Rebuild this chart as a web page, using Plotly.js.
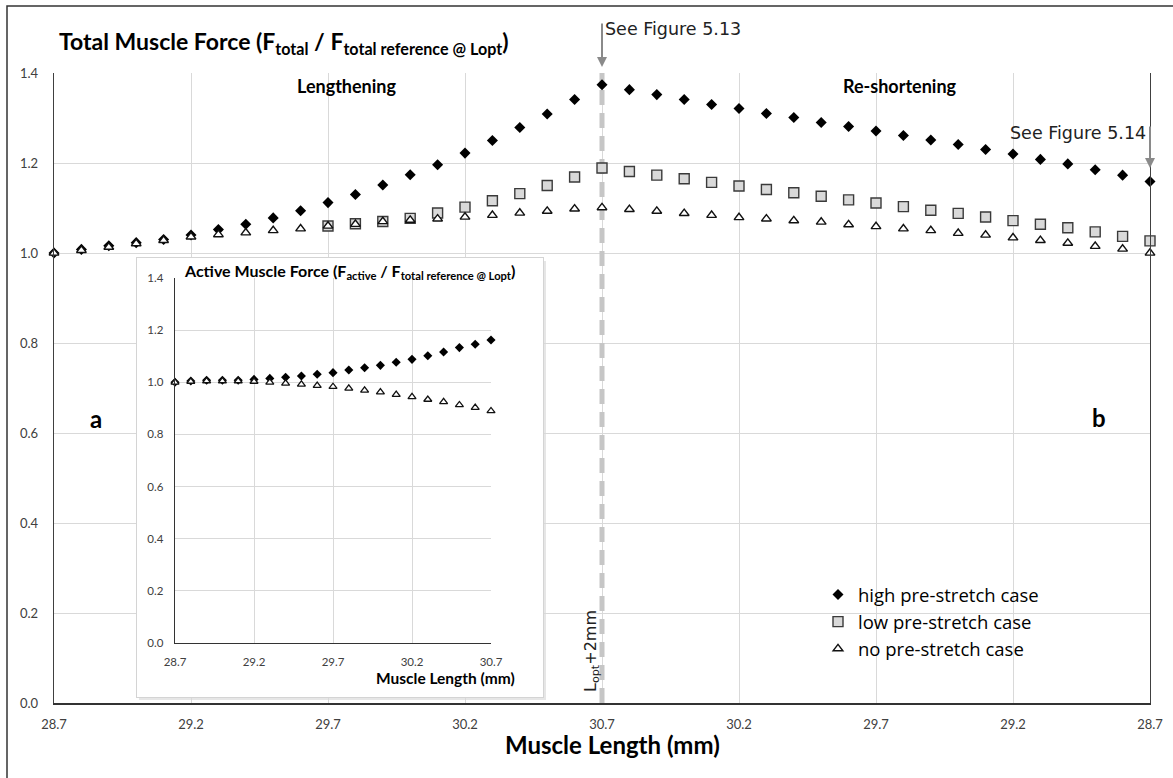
<!DOCTYPE html>
<html>
<head>
<meta charset="utf-8">
<script src="https://cdn.plot.ly/plotly-3.0.1.min.js"></script>
<style>
  html, body { margin: 0; padding: 0; background: #fff; }
  #chart { width: 1173px; height: 778px; }
</style>
</head>
<body>
<div id="chart"></div>
<script>
// Muscle length steps (mm): lengthening up to Lopt+2mm, then re-shortening back
const lengtheningMm = [28.7, 28.8, 28.9, 29.0, 29.1, 29.2, 29.3, 29.4, 29.5, 29.6, 29.7,
                       29.8, 29.9, 30.0, 30.1, 30.2, 30.3, 30.4, 30.5, 30.6, 30.7];
const reshorteningMm = [30.6, 30.5, 30.4, 30.3, 30.2, 30.1, 30.0, 29.9, 29.8, 29.7,
                        29.6, 29.5, 29.4, 29.3, 29.2, 29.1, 29.0, 28.9, 28.8, 28.7];

// Total muscle force, normalised (F_total / F_total reference @ Lopt)
const highLengthening = [1.000, 1.008, 1.016, 1.023, 1.030, 1.040, 1.052, 1.064, 1.078, 1.094, 1.112,
                         1.130, 1.151, 1.174, 1.196, 1.222, 1.250, 1.279, 1.309, 1.341, 1.374];
const highReshortening = [1.363, 1.352, 1.341, 1.330, 1.321, 1.310, 1.301, 1.290, 1.281, 1.271,
                          1.261, 1.251, 1.241, 1.230, 1.220, 1.208, 1.198, 1.185, 1.173, 1.159];
const lowLengthening = [null, null, null, null, null, null, null, null, null, null, 1.060,
                        1.065, 1.070, 1.077, 1.089, 1.102, 1.116, 1.132, 1.150, 1.169, 1.189];
const lowReshortening = [1.181, 1.173, 1.165, 1.157, 1.149, 1.141, 1.134, 1.126, 1.118, 1.111,
                         1.103, 1.095, 1.088, 1.080, 1.072, 1.064, 1.056, 1.047, 1.037, 1.027];
const noneLengthening = [1.000, 1.006, 1.013, 1.021, 1.028, 1.036, 1.041, 1.045, 1.050, 1.054, 1.060,
                         1.064, 1.070, 1.073, 1.076, 1.080, 1.084, 1.089, 1.093, 1.098, 1.101];
const noneReshortening = [1.097, 1.093, 1.088, 1.084, 1.079, 1.076, 1.072, 1.069, 1.063, 1.059,
                          1.054, 1.050, 1.044, 1.040, 1.034, 1.028, 1.022, 1.015, 1.009, 1.000];

// Active muscle force during lengthening (F_active / F_total reference @ Lopt)
const activeHigh = [1.000, 1.005, 1.008, 1.008, 1.008, 1.011, 1.015, 1.019, 1.024, 1.031, 1.037,
                    1.047, 1.056, 1.065, 1.077, 1.088, 1.102, 1.116, 1.133, 1.146, 1.162];
const activeNone = [1.000, 1.003, 1.005, 1.005, 1.005, 1.003, 1.000, 0.996, 0.992, 0.987, 0.983,
                    0.977, 0.969, 0.962, 0.953, 0.944, 0.934, 0.925, 0.913, 0.903, 0.890];

const seriesNames = ['high pre-stretch case', 'low pre-stretch case', 'no pre-stretch case'];
const xTickLabels = ['28.7', '29.2', '29.7', '30.2', '30.7', '30.2', '29.7', '29.2', '28.7'];
const insetTickLabels = ['28.7', '29.2', '29.7', '30.2', '30.7'];

// The main x axis follows the path travelled by the muscle end (mm),
// so the lengthening and re-shortening halves sit side by side.
const startMm = lengtheningMm[0];
const peakMm = lengtheningMm[lengtheningMm.length - 1];
const span = +(peakMm - startMm).toFixed(2);
const pathX = [
  ...lengtheningMm.map(mm => +(mm - startMm).toFixed(2)),
  ...reshorteningMm.map(mm => +(span + peakMm - mm).toFixed(2))
];
const tickPos = xTickLabels.map((_, i) => i * span / 4);

const FONT = 'Lato, "Open Sans", sans-serif';
const SANS = '"DejaVu Sans", Verdana, sans-serif';

const diamond = { symbol: 'diamond', size: 8.5, color: '#000000', line: { width: 0 } };
const square = { symbol: 'square', size: 10, color: '#d9d9d9', line: { color: '#3a3a3a', width: 1.4 } };
const triangle = { symbol: 'triangle-up', size: 8.5, color: '#ffffff', line: { color: '#111111', width: 1.4 } };

const traces = [
  { x: pathX, y: [...highLengthening, ...highReshortening], name: seriesNames[0],
    type: 'scatter', mode: 'markers', marker: diamond, cliponaxis: false, xaxis: 'x', yaxis: 'y' },
  { x: pathX, y: [...lowLengthening, ...lowReshortening], name: seriesNames[1],
    type: 'scatter', mode: 'markers', marker: square, cliponaxis: false, xaxis: 'x', yaxis: 'y' },
  { x: pathX, y: [...noneLengthening, ...noneReshortening], name: seriesNames[2],
    type: 'scatter', mode: 'markers', marker: triangle, cliponaxis: false, xaxis: 'x', yaxis: 'y' },
  // empty trace that gives the inset card its own subplot (and white background)
  { x: [], y: [], type: 'scatter', mode: 'markers', showlegend: false, hoverinfo: 'skip',
    xaxis: 'x2', yaxis: 'y2' },
  { x: lengtheningMm, y: activeHigh, name: seriesNames[0], showlegend: false,
    type: 'scatter', mode: 'markers', cliponaxis: false, xaxis: 'x3', yaxis: 'y3',
    marker: { symbol: 'diamond', size: 7, color: '#000000' } },
  { x: lengtheningMm, y: activeNone, name: seriesNames[2], showlegend: false,
    type: 'scatter', mode: 'markers', cliponaxis: false, xaxis: 'x3', yaxis: 'y3',
    marker: { symbol: 'triangle-up', size: 7, color: '#ffffff', line: { color: '#111111', width: 1.3 } } }
];

// Pixel helpers for paper-positioned items (plot area: 54..1150 x 73..703)
const L = 54, R = 1150, T = 73, B = 703;
const px = v => (v - L) / (R - L);
const py = v => (B - v) / (B - T);

const tickFont = { family: FONT, size: 13, color: '#404040' };
const insetTickFont = { family: FONT, size: 11.5, color: '#404040' };

const layout = {
  width: 1173, height: 778,
  margin: { l: L, r: 1173 - R, t: T, b: 778 - B },
  paper_bgcolor: '#ffffff', plot_bgcolor: '#ffffff',
  font: { family: FONT, color: '#000000' },
  showlegend: true,
  legend: {
    x: px(818), y: py(576), xanchor: 'left', yanchor: 'top',
    bgcolor: 'rgba(0,0,0,0)', font: { family: '"Open Sans", sans-serif', size: 18.5, color: '#000000' },
    tracegroupgap: 0
  },
  xaxis: {
    domain: [0, 1], range: [0, span * 2], anchor: 'y',
    tickmode: 'array', tickvals: tickPos, ticktext: xTickLabels,
    ticks: '', ticklabelstandoff: 9, tickfont: tickFont,
    showgrid: true, gridcolor: '#d9d9d9', gridwidth: 1, zeroline: false,
    showline: true, linecolor: '#333333', linewidth: 1.5
  },
  yaxis: {
    domain: [0, 1], range: [0, 1.4], anchor: 'x',
    dtick: 0.2, tickformat: '.1f', ticks: '', ticklabelstandoff: 12, tickfont: tickFont,
    showgrid: true, gridcolor: '#d9d9d9', gridwidth: 1, zeroline: false,
    showline: true, mirror: true, linecolor: '#404040', linewidth: 1.3
  },
  // white card behind the inset chart
  xaxis2: {
    domain: [px(137), px(543)], range: [0, 1], anchor: 'y2',
    showgrid: false, zeroline: false, showticklabels: false, ticks: '',
    showline: true, mirror: true, linecolor: '#d4d4d4', linewidth: 1, fixedrange: true
  },
  yaxis2: {
    domain: [py(697), py(258)], range: [0, 1], anchor: 'x2',
    showgrid: false, zeroline: false, showticklabels: false, ticks: '',
    showline: true, mirror: true, linecolor: '#d4d4d4', linewidth: 1, fixedrange: true
  },
  // inset: active force during lengthening
  xaxis3: {
    domain: [px(175), px(491)], range: [28.7, 30.7], anchor: 'y3',
    tickmode: 'array', tickvals: insetTickLabels.map(Number), ticktext: insetTickLabels,
    ticks: '', ticklabelstandoff: 8, tickfont: insetTickFont,
    showgrid: true, gridcolor: '#d9d9d9', zeroline: false,
    showline: true, linecolor: '#333333', linewidth: 1.3
  },
  yaxis3: {
    domain: [py(643), py(278)], range: [0, 1.4], anchor: 'x3',
    dtick: 0.2, tickformat: '.1f', ticks: '', ticklabelstandoff: 8, tickfont: insetTickFont,
    showgrid: true, gridcolor: '#d9d9d9', zeroline: false,
    showline: true, linecolor: '#333333', linewidth: 1.3
  },
  shapes: [
    // soft drop shadow of the inset card
    { type: 'rect', xref: 'paper', yref: 'paper', layer: 'below',
      x0: px(139), x1: px(546), y0: py(700), y1: py(261),
      fillcolor: '#e6e6e6', line: { width: 0 } },
    // Lopt + 2mm marker
    { type: 'line', xref: 'x', yref: 'y', layer: 'between',
      x0: span, x1: span, y0: 0, y1: 1.4,
      line: { color: '#c6c6c6', width: 5, dash: '15px,8px' } },
    // outer frame
    { type: 'rect', xref: 'paper', yref: 'paper', layer: 'above',
      x0: px(7), x1: px(1185), y0: py(790), y1: py(6),
      fillcolor: 'rgba(0,0,0,0)', line: { color: '#333333', width: 1.5 } }
  ],
  annotations: [
    { xref: 'paper', yref: 'paper', x: px(57), y: py(43), xanchor: 'left', yanchor: 'middle',
      showarrow: false, font: { family: FONT, size: 23, color: '#000000' },
      text: '<b>Total Muscle Force (F<sub>total</sub> / F<sub>total reference @ Lopt</sub>)</b>' },
    { xref: 'paper', yref: 'paper', x: px(612), y: py(744), xanchor: 'center', yanchor: 'middle',
      showarrow: false, font: { family: FONT, size: 24, color: '#000000' },
      text: '<b>Muscle Length (mm)</b>' },
    { xref: 'paper', yref: 'paper', x: px(346), y: py(86), xanchor: 'center', yanchor: 'middle',
      showarrow: false, font: { family: FONT, size: 18, color: '#000000' }, text: '<b>Lengthening</b>' },
    { xref: 'paper', yref: 'paper', x: px(900), y: py(86), xanchor: 'center', yanchor: 'middle',
      showarrow: false, font: { family: FONT, size: 18, color: '#000000' }, text: '<b>Re-shortening</b>' },
    { xref: 'paper', yref: 'paper', x: px(96), y: py(418), xanchor: 'center', yanchor: 'middle',
      showarrow: false, font: { family: FONT, size: 24, color: '#000000' }, text: '<b>a</b>' },
    { xref: 'paper', yref: 'paper', x: px(1099), y: py(417), xanchor: 'center', yanchor: 'middle',
      showarrow: false, font: { family: FONT, size: 24, color: '#000000' }, text: '<b>b</b>' },
    // inset titles
    { xref: 'paper', yref: 'paper', x: px(182), y: py(271), xanchor: 'left', yanchor: 'middle',
      showarrow: false, font: { family: FONT, size: 16, color: '#000000' },
      text: '<b>Active Muscle Force (F<sub>active</sub> / F<sub>total reference @ Lopt</sub>)</b>' },
    { xref: 'paper', yref: 'paper', x: px(374), y: py(678), xanchor: 'left', yanchor: 'middle',
      showarrow: false, font: { family: FONT, size: 15.5, color: '#000000' },
      text: '<b>Muscle Length (mm)</b>' },
    // Lopt+2mm label along the dashed line
    { xref: 'paper', yref: 'paper', x: px(591), y: py(651), xanchor: 'center', yanchor: 'middle',
      showarrow: false, textangle: -90, font: { family: SANS, size: 16, color: '#222222' },
      text: 'L<sub>opt</sub>+2mm' },
    // figure references with arrows
    { xref: 'x', yref: 'paper', x: span, y: py(67), text: '', showarrow: true,
      ax: 0, ay: -45, arrowhead: 2, arrowsize: 1, arrowwidth: 2, arrowcolor: '#8a8a8a', standoff: 0 },
    { xref: 'paper', yref: 'paper', x: px(603), y: py(29), xanchor: 'left', yanchor: 'middle',
      showarrow: false, font: { family: SANS, size: 17.5, color: '#222222' }, text: 'See Figure 5.13' },
    { xref: 'x', yref: 'paper', x: span * 2, y: py(168), text: '', showarrow: true,
      ax: 0, ay: -43, arrowhead: 2, arrowsize: 1, arrowwidth: 2, arrowcolor: '#8a8a8a', standoff: 0 },
    { xref: 'paper', yref: 'paper', x: px(1148), y: py(133), xanchor: 'right', yanchor: 'middle',
      showarrow: false, font: { family: SANS, size: 17.5, color: '#222222' }, text: 'See Figure 5.14' }
  ]
};

Plotly.newPlot('chart', traces, layout, { displayModeBar: false, staticPlot: true });
</script>
</body>
</html>
